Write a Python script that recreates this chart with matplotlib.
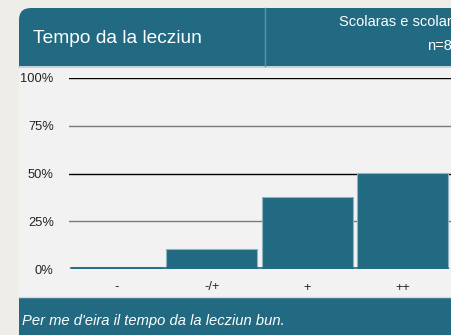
import matplotlib.pyplot as plt
from matplotlib.patches import FancyBboxPatch, Rectangle

plt.rcParams['font.family'] = ['Liberation Sans', 'DejaVu Sans']

# Survey answers and their share of responses (%)
categories = ['-', '-/+', '+', '++']
shares = [0.8, 10.5, 37.7, 50.3]
yticks = [0, 25, 50, 75, 100]
ytick_labels = ['0%', '25%', '50%', '75%', '100%']

title = 'Tempo da la lecziun'
group_label = 'Scolaras e scolars'
count_label = 'n=8'
footer = "Per me d'eira il tempo da la lecziun bun."

teal = '#216A82'
page_bg = '#EEEDE7'
panel_bg = '#F2F2F2'

W, H = 452, 335
fig = plt.figure(figsize=(W / 100, H / 100), dpi=100)
fig.patch.set_facecolor(page_bg)

# background layer in pixel coordinates (y downwards)
bg = fig.add_axes([0, 0, 1, 1])
bg.set_xlim(0, W)
bg.set_ylim(H, 0)
bg.axis('off')

# card body
bg.add_patch(Rectangle((19, 20), 460, 320, facecolor=panel_bg, edgecolor='none'))
# header: only the top-left corner is rounded
bg.add_patch(FancyBboxPatch((19, 8), 600, 58, boxstyle='round,pad=0,rounding_size=12',
                            facecolor=teal, edgecolor='none'))
bg.add_patch(Rectangle((19, 30), 460, 36, facecolor=teal, edgecolor='none'))
bg.add_patch(Rectangle((60, 8), 420, 30, facecolor=teal, edgecolor='none'))
bg.plot([19, W], [66.5, 66.5], color='#B9CDD5', lw=1.2)
bg.plot([265.5, 265.5], [8, 66], color='#5E93A6', lw=1)
# footer band
bg.add_patch(Rectangle((19, 298), 460, 40, facecolor=teal, edgecolor='none'))
bg.plot([19, W], [297, 297], color='#D5D9DB', lw=1)

bg.text(33, 38.5, title, color='white', fontsize=13.8, va='center', ha='left')
bg.text(339, 21.5, group_label, color='white', fontsize=10.5, va='center', ha='left')
bg.text(427, 46, count_label, color='white', fontsize=10.5, va='center', ha='left')
bg.text(22, 321, footer, color='white', fontsize=10.6, style='italic', va='center', ha='left')

# chart area: x 69..452 px, y 78..269 px
left, right, top, bottom = 69, 452, 78, 269
ax = fig.add_axes([left / W, (H - bottom) / H, (right - left) / W, (bottom - top) / H])
ax.set_facecolor('none')
ax.set_xlim(-0.496, 3.517)
ax.set_ylim(0, 100)
for s in ax.spines.values():
    s.set_visible(False)

for v in yticks[1:]:
    ax.axhline(v, color='black' if v % 50 == 0 else '#7A7A7A', lw=1, zorder=1)
ax.axhline(0, color='#D8DDE0', lw=2.5, zorder=1)

x = range(len(categories))
ax.bar(x, shares, width=0.95, color=teal, edgecolor='#8FB3C2', linewidth=0.8, zorder=2)
ax.plot([-0.475, 3.475], [0.3, 0.3], color=teal, lw=1.2, zorder=3)

ax.set_yticks(yticks)
ax.set_yticklabels(ytick_labels)
ax.set_xticks(list(x))
ax.set_xticklabels(categories)
ax.tick_params(length=0, labelsize=9.3, colors='#222222')
ax.tick_params(axis='y', pad=11)
ax.tick_params(axis='x', pad=9)

fig.savefig('out.png', dpi=100, facecolor=page_bg)
